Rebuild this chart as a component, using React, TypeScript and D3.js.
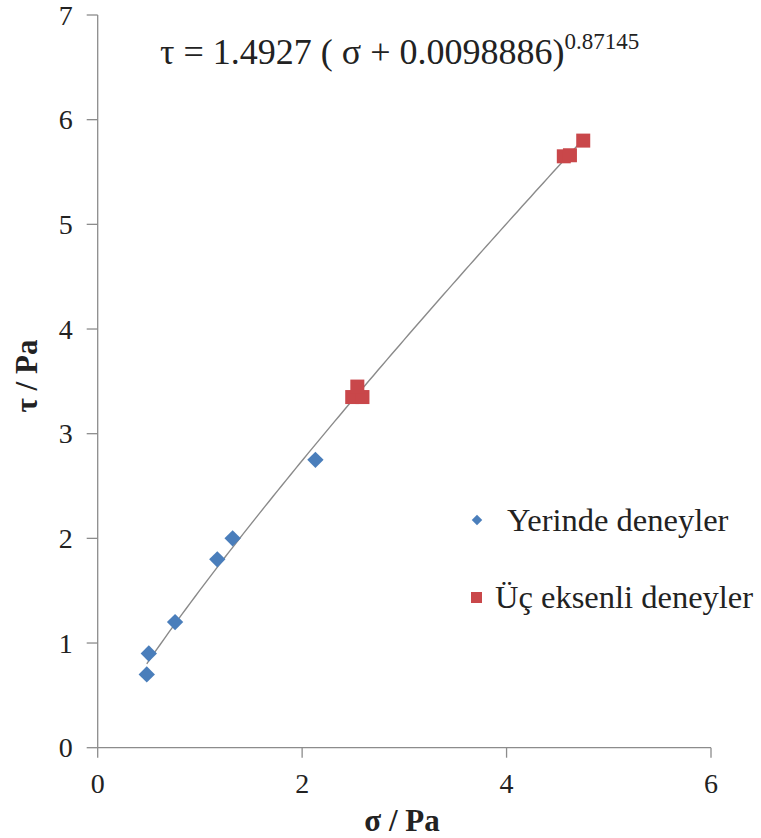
import React from "react";
import * as d3 from "d3";

// In-situ tests (σ, τ) in Pa
const insituSigma = [0.48, 0.5, 0.757, 1.17, 1.32, 2.13];
const insituTau = [0.7, 0.9, 1.2, 1.8, 2.0, 2.75];

// Triaxial tests (σ, τ) in Pa
const triaxSigma = [2.49, 2.59, 2.54, 4.56, 4.62, 4.75];
const triaxTau = [3.35, 3.35, 3.45, 5.65, 5.66, 5.8];

const xTicks = [0, 2, 4, 6];
const yTicks = [0, 1, 2, 3, 4, 5, 6, 7];

// Power-law fit: τ = a (σ + b)^c
const fitA = 1.4927;
const fitB = 0.0098886;
const fitC = 0.87145;
const fitRange = [0.48, 4.75];

const seriesNames = ["Yerinde deneyler", "Üç eksenli deneyler"];
const blue = "#4a7ebb";
const red = "#c9474a";
const axisColor = "#8c8c8c";
const textColor = "#222";
const font = "Liberation Serif, Tinos, DejaVu Serif, serif";

export default function App() {
  const W = 761;
  const H = 838;
  const x = d3.scaleLinear().domain([0, 6]).range([97.7, 711]);
  const y = d3.scaleLinear().domain([0, 7]).range([747.7, 15]);

  const fitPts = d3
    .range(fitRange[0], fitRange[1] + 1e-9, (fitRange[1] - fitRange[0]) / 100)
    .map((s) => [s, fitA * Math.pow(s + fitB, fitC)] as [number, number]);
  const line = d3
    .line<[number, number]>()
    .x((d) => x(d[0]))
    .y((d) => y(d[1]));

  const diamond = d3.symbol().type(d3.symbolDiamond2).size(170)();
  const diamondSmall = d3.symbol().type(d3.symbolDiamond2).size(70)();
  const sq = 14;
  const ts = { fontFamily: font };

  return (
    <svg
      width={W}
      height={H}
      style={{ position: "absolute", left: 0, top: 0, background: "#fff" }}
    >
      {/* axes */}
      <line x1={x(0)} x2={x(0)} y1={y(7)} y2={y(0)} stroke={axisColor} strokeWidth={1.3} />
      <line x1={x(0)} x2={x(6)} y1={y(0)} y2={y(0)} stroke={axisColor} strokeWidth={1.3} />
      {yTicks.map((t) => (
        <g key={"y" + t}>
          <line x1={x(0) - 11} x2={x(0)} y1={y(t)} y2={y(t)} stroke={axisColor} strokeWidth={1.3} />
          <text
            x={x(0) - 25}
            y={y(t)}
            dy="0.34em"
            textAnchor="end"
            fontSize={28}
            fill={textColor}
            style={ts}
          >
            {t}
          </text>
        </g>
      ))}
      {xTicks.map((t) => (
        <g key={"x" + t}>
          <line x1={x(t)} x2={x(t)} y1={y(0)} y2={y(0) + 10} stroke={axisColor} strokeWidth={1.3} />
          <text x={x(t)} y={793} textAnchor="middle" fontSize={28} fill={textColor} style={ts}>
            {t}
          </text>
        </g>
      ))}

      {/* axis titles */}
      <text x={402} y={831} textAnchor="middle" fontSize={31} fontWeight="bold" fill={textColor} style={ts}>
        σ / Pa
      </text>
      <text
        transform="translate(37,376) rotate(-90)"
        textAnchor="middle"
        fontSize={31}
        fontWeight="bold"
        fill={textColor}
        style={ts}
      >
        τ / Pa
      </text>

      {/* fit curve */}
      <path d={line(fitPts) || ""} fill="none" stroke="#8a8a8a" strokeWidth={1.4} />

      {/* in-situ points */}
      {insituSigma.map((s, i) => (
        <path key={"b" + i} d={diamond || ""} transform={`translate(${x(s)},${y(insituTau[i])})`} fill={blue} />
      ))}
      {/* triaxial points */}
      {triaxSigma.map((s, i) => (
        <rect
          key={"r" + i}
          x={x(s) - sq / 2}
          y={y(triaxTau[i]) - sq / 2}
          width={sq}
          height={sq}
          fill={red}
        />
      ))}

      {/* equation */}
      <text x={160} y={64} fontSize={36} fill={textColor} style={ts}>
        τ = 1.4927 ( σ + 0.0098886)
        <tspan dy={-15} fontSize={23}>0.87145</tspan>
      </text>

      {/* legend */}
      <path d={diamondSmall || ""} transform="translate(477,520)" fill={blue} />
      <text x={507} y={531} fontSize={32.5} fill={textColor} style={ts}>
        {seriesNames[0]}
      </text>
      <rect x={471} y={592} width={11} height={11} fill={red} />
      <text x={495} y={608} fontSize={32.5} fill={textColor} style={ts}>
        {seriesNames[1]}
      </text>
    </svg>
  );
}
